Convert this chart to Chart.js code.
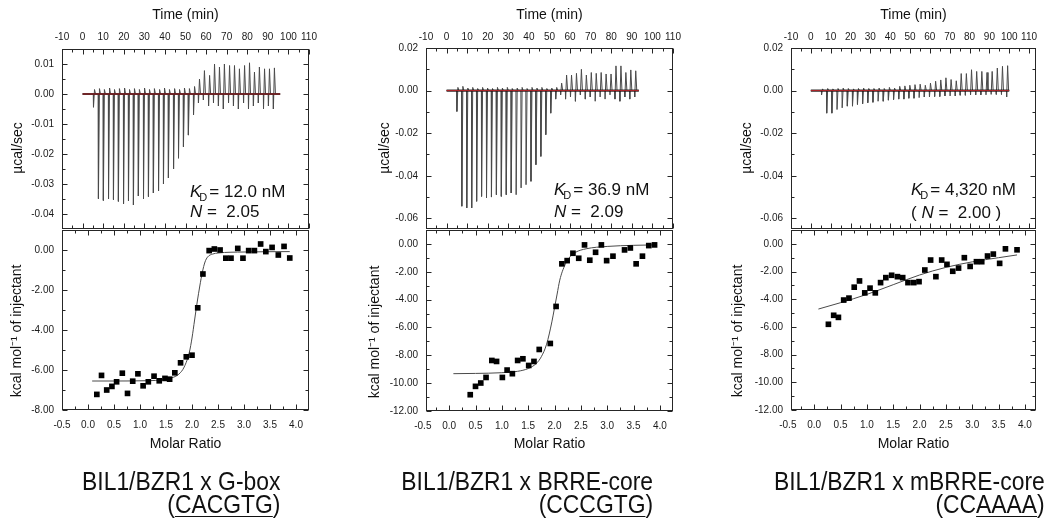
<!DOCTYPE html>
<html>
<head>
<meta charset="utf-8">
<title>ITC - BIL1/BZR1</title>
<script src="https://cdn.jsdelivr.net/npm/chart.js@4.4.1/dist/chart.umd.min.js"></script>
<style>
  html, body { margin: 0; padding: 0; background: #fff; }
  #page { position: relative; width: 1047px; height: 520px; overflow: hidden; }
  #page canvas { position: absolute; }
  .cap {
    position: absolute; text-align: right; white-space: nowrap; color: #111;
    font-family: "Liberation Sans", Arial, sans-serif;
    font-size: 26px; line-height: 23px;
    transform: scaleX(0.88); transform-origin: right top;
  }
  .cap u { text-decoration-thickness: 1px; text-underline-offset: 3px; }
</style>
</head>
<body>
<div id="page">
  <canvas id="raw0"></canvas><canvas id="fit0"></canvas>
  <canvas id="raw1"></canvas><canvas id="fit1"></canvas>
  <canvas id="raw2"></canvas><canvas id="fit2"></canvas>
  <div class="cap" style="right:767px; top:470px">BIL1/BZR1 x G-box<br>(<u>CACGTG</u>)</div>
  <div class="cap" style="right:394px; top:470px">BIL1/BZR1 x BRRE-core<br>(CC<u>CGTG</u>)</div>
  <div class="cap" style="right:2px; top:470px">BIL1/BZR1 x mBRRE-core<br>(CC<u>AAAA</u>)</div>
</div>
<script>
// ---- tick labels ----
const timeTicks = [-10, 0, 10, 20, 30, 40, 50, 60, 70, 80, 90, 100, 110];
const ratioTicks = [-0.5, 0.0, 0.5, 1.0, 1.5, 2.0, 2.5, 3.0, 3.5, 4.0];
const rawTicksA = [-0.04, -0.03, -0.02, -0.01, 0.00, 0.01];
const rawTicksB = [-0.06, -0.04, -0.02, 0.00, 0.02];
const heatTicksA = [-8, -6, -4, -2, 0];
const heatTicksB = [-12, -10, -8, -6, -4, -2, 0];

const kdLabels = ["12.0 nM", "36.9 nM", "4,320 nM"];
const nLabels = ["2.05", "2.09", "2.00"];

// ---- raw heat: injection time (min), lowest and highest signal (µcal/sec) ----
const p1Times = [5.2, 7.6, 10.0, 12.5, 14.9, 17.3, 19.8, 22.2, 24.6, 27.0, 29.5, 31.9, 34.3, 36.8, 39.2, 41.6, 44.1, 46.5, 48.9, 51.3, 53.8, 56.2, 58.6, 61.1, 63.5, 65.9, 68.3, 70.8, 73.2, 75.6, 78.1, 80.5, 82.9, 85.3, 87.8, 90.2, 92.6];
const p1Down = [-0.0044, -0.0349, -0.0355, -0.035, -0.0352, -0.0358, -0.0366, -0.0356, -0.037, -0.034, -0.035, -0.0342, -0.033, -0.0323, -0.030, -0.028, -0.025, -0.0214, -0.0176, -0.0137, -0.007, -0.003, -0.002, -0.004, -0.003, -0.004, -0.005, -0.003, -0.004, -0.005, -0.003, -0.005, -0.004, -0.003, -0.005, -0.004, -0.005];
const p1Up = [0.0015, 0.0018, 0.0015, 0.002, 0.0015, 0.0018, 0.002, 0.0015, 0.0018, 0.0015, 0.002, 0.0015, 0.0018, 0.0015, 0.002, 0.0015, 0.0018, 0.0015, 0.002, 0.0018, 0.0025, 0.005, 0.0078, 0.0062, 0.01, 0.009, 0.01, 0.0095, 0.0095, 0.0084, 0.0095, 0.0104, 0.0073, 0.009, 0.0084, 0.0084, 0.0087];

const p2Times = [4.9, 7.3, 9.7, 12.1, 14.5, 16.9, 19.3, 21.7, 24.1, 26.5, 28.9, 31.3, 33.7, 36.1, 38.5, 40.9, 43.3, 45.7, 48.1, 50.5, 52.9, 55.3, 57.7, 60.1, 62.5, 64.9, 67.3, 69.7, 72.1, 74.5, 76.9, 79.3, 81.7, 84.1, 86.5, 88.9, 91.3];
const p2Down = [-0.0098, -0.0543, -0.0551, -0.0551, -0.052, -0.0497, -0.0504, -0.050, -0.0489, -0.0497, -0.0489, -0.0481, -0.0489, -0.0457, -0.0442, -0.0426, -0.0348, -0.0309, -0.0207, -0.0106, -0.004, -0.002, -0.004, -0.003, -0.005, -0.002, -0.004, -0.003, -0.005, -0.003, -0.004, -0.002, -0.004, -0.005, -0.003, -0.004, -0.003];
const p2Up = [0.0015, 0.002, 0.0012, 0.0015, 0.001, 0.0015, 0.0012, 0.001, 0.0015, 0.0012, 0.0015, 0.001, 0.0012, 0.0015, 0.001, 0.0015, 0.0012, 0.0015, 0.001, 0.0012, 0.0015, 0.0035, 0.0073, 0.0073, 0.0081, 0.010, 0.0073, 0.0085, 0.0081, 0.0085, 0.0078, 0.0078, 0.0116, 0.0116, 0.0085, 0.0097, 0.0093];

const p3Times = [5.3, 7.9, 10.5, 13.1, 15.7, 18.3, 20.9, 23.4, 26.0, 28.6, 31.2, 33.8, 36.4, 39.0, 41.6, 44.2, 46.8, 49.3, 51.9, 54.5, 57.1, 59.7, 62.3, 64.9, 67.5, 70.1, 72.7, 75.2, 77.8, 80.4, 83.0, 85.6, 88.2, 90.8, 93.4, 96.0, 98.6];
const p3Down = [-0.002, -0.0106, -0.0106, -0.0089, -0.0081, -0.0073, -0.0073, -0.0065, -0.0062, -0.0057, -0.0055, -0.005, -0.005, -0.0045, -0.0042, -0.004, -0.004, -0.0036, -0.0036, -0.0033, -0.003, -0.003, -0.0028, -0.0028, -0.0025, -0.0025, -0.0025, -0.0022, -0.0022, -0.002, -0.002, -0.002, -0.002, -0.0018, -0.0018, -0.0018, -0.003];
const p3Up = [0.0008, 0.001, 0.0008, 0.001, 0.0012, 0.001, 0.0008, 0.001, 0.0012, 0.001, 0.001, 0.0012, 0.001, 0.0015, 0.0012, 0.002, 0.0022, 0.0025, 0.0028, 0.003, 0.0025, 0.0035, 0.0044, 0.005, 0.006, 0.0052, 0.0046, 0.008, 0.008, 0.0098, 0.009, 0.009, 0.0085, 0.009, 0.0106, 0.0114, 0.0117];

// ---- integrated heat: molar ratio vs kcal/mol of injectant ----
const p1X = [0.17, 0.26, 0.36, 0.46, 0.55, 0.66, 0.76, 0.86, 0.96, 1.06, 1.16, 1.27, 1.37, 1.48, 1.57, 1.67, 1.78, 1.89, 2.00, 2.11, 2.21, 2.33, 2.43, 2.54, 2.65, 2.75, 2.88, 2.98, 3.09, 3.20, 3.32, 3.42, 3.54, 3.66, 3.77, 3.88];
const p1Y = [-7.22, -6.27, -7.00, -6.82, -6.59, -6.16, -7.17, -6.56, -6.19, -6.79, -6.59, -6.31, -6.54, -6.42, -6.46, -6.14, -5.64, -5.34, -5.26, -2.89, -1.20, -0.03, 0.05, 0.00, -0.41, -0.41, 0.08, -0.41, -0.03, -0.03, 0.30, -0.08, 0.13, -0.25, 0.18, -0.40];
const p1FitX = [0.08, 0.5, 1.0, 1.4, 1.6, 1.75, 1.85, 1.95, 2.0, 2.05, 2.1, 2.15, 2.2, 2.25, 2.3, 2.4, 2.5, 3.0, 3.88];
const p1FitY = [-6.55, -6.55, -6.54, -6.5, -6.4, -6.2, -5.85, -5.1, -4.4, -3.5, -2.6, -1.8, -1.1, -0.6, -0.35, -0.2, -0.15, -0.1, -0.08];

const p2X = [0.40, 0.50, 0.60, 0.70, 0.81, 0.90, 1.01, 1.10, 1.20, 1.30, 1.40, 1.51, 1.61, 1.71, 1.92, 2.03, 2.14, 2.24, 2.35, 2.46, 2.57, 2.67, 2.78, 2.89, 2.99, 3.11, 3.33, 3.44, 3.55, 3.67, 3.79, 3.90];
const p2Y = [-10.83, -10.23, -9.99, -9.59, -8.37, -8.44, -9.59, -9.06, -9.32, -8.37, -8.25, -8.73, -8.44, -7.58, -7.15, -4.49, -1.43, -1.20, -0.67, -1.03, -0.07, -1.17, -0.60, -0.07, -1.20, -0.88, -0.43, -0.29, -1.43, -0.88, -0.12, -0.07];
const p2FitX = [0.08, 0.5, 1.0, 1.3, 1.5, 1.65, 1.75, 1.85, 1.95, 2.0, 2.05, 2.1, 2.2, 2.3, 2.4, 2.6, 3.0, 3.5, 3.9];
const p2FitY = [-9.32, -9.3, -9.25, -9.15, -8.95, -8.6, -8.1, -7.2, -5.6, -4.6, -3.6, -2.6, -1.5, -0.9, -0.6, -0.35, -0.18, -0.1, -0.07];

const p3X = [0.27, 0.37, 0.46, 0.56, 0.66, 0.76, 0.86, 0.96, 1.06, 1.16, 1.26, 1.36, 1.47, 1.58, 1.68, 1.78, 1.89, 1.99, 2.10, 2.21, 2.31, 2.42, 2.52, 2.63, 2.74, 2.85, 2.96, 3.08, 3.18, 3.29, 3.40, 3.52, 3.63, 3.85];
const p3Y = [-5.81, -5.16, -5.31, -4.06, -3.92, -3.13, -2.68, -3.54, -3.20, -3.54, -2.80, -2.44, -2.27, -2.37, -2.44, -2.80, -2.80, -2.73, -1.89, -1.17, -2.37, -1.17, -1.48, -1.98, -1.75, -1.00, -1.63, -1.29, -1.29, -0.88, -0.74, -1.41, -0.36, -0.43];
const p3FitX = [0.08, 0.5, 1.0, 1.5, 2.0, 2.5, 3.0, 3.5, 3.85];
const p3FitY = [-4.71, -4.25, -3.65, -2.95, -2.25, -1.7, -1.3, -1.0, -0.8];

// ---- page layout (pixels) ----
const FAM = "'Liberation Sans', Arial, Helvetica, sans-serif";
Chart.defaults.font.family = FAM;
Chart.defaults.color = "#1a1a1a";

const panels = [
  { col: 0, boxL: 62, boxR: 309, rawTop: 49, fitBottom: 410, xPad: 6,
    rawX: [-10, 110], rawY: [-0.045, 0.015], rawYTicks: rawTicksA,
    fitX: [-0.5, 4.25], fitY: [-8, 1], fitYTicks: heatTicksA,
    times: p1Times, downs: p1Down, ups: p1Up, traceEnd: 96,
    px: p1X, py: p1Y, fx: p1FitX, fy: p1FitY, paren: false,
    note: [190, 197, 217], rawTitle: [18, 148], fitTitle: [17, 331] },
  { col: 350, boxL: 426, boxR: 673, rawTop: 48, fitBottom: 411, xPad: 5,
    rawX: [-10, 110], rawY: [-0.065, 0.02], rawYTicks: rawTicksB,
    fitX: [-0.44, 4.25], fitY: [-12, 1], fitYTicks: heatTicksB,
    times: p2Times, downs: p2Down, ups: p2Up, traceEnd: 93.4,
    px: p2X, py: p2Y, fx: p2FitX, fy: p2FitY, paren: false,
    note: [554, 195, 217], rawTitle: [385, 148], fitTitle: [375, 332] },
  { col: 697, boxL: 791, boxR: 1036, rawTop: 48, fitBottom: 410, xPad: 5,
    rawX: [-10, 113.5], rawY: [-0.065, 0.02], rawYTicks: rawTicksB,
    fitX: [-0.44, 4.21], fitY: [-12, 1], fitYTicks: heatTicksB,
    times: p3Times, downs: p3Down, ups: p3Up, traceEnd: 100,
    px: p3X, py: p3Y, fx: p3FitX, fy: p3FitY, paren: true,
    note: [911, 195, 218], rawTitle: [747, 148], fitTitle: [738, 331] }
];

function midpoints(a) {
  const m = [];
  for (let i = 1; i < a.length; i++) m.push((a[i - 1] + a[i]) / 2);
  return m;
}

// each injection: leaves the baseline, dips, overshoots, comes back
function spikeTrace(times, downs, ups, endTime) {
  const pts = [{ x: 0, y: 0 }];
  times.forEach((t, i) => {
    pts.push({ x: t, y: 0 });
    pts.push({ x: t + 0.1, y: downs[i] });
    pts.push({ x: t + 0.6, y: ups[i] });
    pts.push({ x: t + 1.1, y: 0 });
  });
  pts.push({ x: endTime, y: 0 });
  return pts;
}

function zip(xs, ys) {
  return xs.map((x, i) => ({ x: x, y: ys[i] }));
}

// box around the plot with inward ticks on all four sides
const framePlugin = {
  id: "frame",
  afterDatasetsDraw(chart, args, o) {
    const { ctx, chartArea: a } = chart;
    const sx = chart.scales.x, sy = chart.scales.y;
    const L = Math.round(a.left) + 0.5, R = Math.round(a.right) - 0.5;
    const T = Math.round(a.top) + 0.5, B = Math.round(a.bottom) - 0.5;
    ctx.save();
    ctx.strokeStyle = "#262626";
    ctx.lineWidth = 1;
    ctx.strokeRect(L, T, R - L, B - T);
    ctx.beginPath();
    const xt = (vals, len) => vals.forEach(v => {
      if (v < sx.min || v > sx.max) return;
      const p = Math.round(sx.getPixelForValue(v)) + 0.5;
      ctx.moveTo(p, T); ctx.lineTo(p, T + len);
      ctx.moveTo(p, B); ctx.lineTo(p, B - len);
    });
    const yt = (vals, len) => vals.forEach(v => {
      if (v < sy.min || v > sy.max) return;
      const p = Math.round(sy.getPixelForValue(v)) + 0.5;
      ctx.moveTo(L, p); ctx.lineTo(L + len, p);
      ctx.moveTo(R, p); ctx.lineTo(R - len, p);
    });
    xt(o.xMajor, 5); xt(midpoints(o.xMajor), 3);
    yt(o.yMajor, 5); yt(midpoints(o.yMajor), 3);
    ctx.stroke();
    ctx.restore();
  }
};

// rotated y axis title at a fixed spot
const yTitlePlugin = {
  id: "ytitle",
  afterDraw(chart, args, o) {
    const ctx = chart.ctx;
    ctx.save();
    ctx.translate(o.cx, o.cy);
    ctx.rotate(-Math.PI / 2);
    ctx.font = "14px " + FAM;
    ctx.fillStyle = "#111";
    ctx.textAlign = "center";
    ctx.textBaseline = "middle";
    ctx.fillText(o.text, 0, 0);
    ctx.restore();
  }
};

// K_D and N annotation
const notePlugin = {
  id: "note",
  afterDatasetsDraw(chart, args, o) {
    const ctx = chart.ctx;
    ctx.save();
    ctx.fillStyle = "#111";
    ctx.textAlign = "left";
    ctx.textBaseline = "alphabetic";
    let x = o.x;
    ctx.font = "italic 17px " + FAM;
    ctx.fillText("K", x, o.y1);
    x += ctx.measureText("K").width;
    ctx.font = "11px " + FAM;
    ctx.fillText("D", x - 2, o.y1 + 4);
    x += ctx.measureText("D").width;
    ctx.font = "17px " + FAM;
    ctx.fillText("= " + o.kd, x, o.y1);
    x = o.x;
    if (o.paren) {
      ctx.fillText("( ", x, o.y2);
      x += ctx.measureText("( ").width;
    }
    ctx.font = "italic 17px " + FAM;
    ctx.fillText("N", x, o.y2);
    x += ctx.measureText("N").width;
    ctx.font = "17px " + FAM;
    ctx.fillText(" =  " + o.n + (o.paren ? " )" : ""), x, o.y2);
    ctx.restore();
  }
};

function fixedAxis(position, range, tickValues, format, padding, size) {
  const horizontal = position === "top" || position === "bottom";
  return {
    type: "linear", position: position, min: range[0], max: range[1],
    afterBuildTicks: s => { s.ticks = tickValues.map(v => ({ value: v })); },
    afterFit: s => {
      if (horizontal) { s.height = size; s.paddingLeft = 0; s.paddingRight = 0; }
      else { s.width = size; s.paddingTop = 0; s.paddingBottom = 0; }
    },
    grid: { display: false, drawTicks: false },
    border: { display: false },
    ticks: { font: { size: 10 }, padding: padding, autoSkip: false, maxRotation: 0, color: "#1a1a1a", callback: format }
  };
}

function placeCanvas(id, left, top, w, h) {
  const c = document.getElementById(id);
  c.width = w; c.height = h;
  c.style.left = left + "px"; c.style.top = top + "px";
  return c;
}

const RAW_H = 232, RAW_BOTTOM = 229;
const FIT_TOP = 226, FIT_H = 234, PAD_R = 12;

panels.forEach((p, i) => {
  const w = p.boxR - p.col + PAD_R;

  // ---- raw heat trace ----
  const rawCanvas = placeCanvas("raw" + i, p.col, 0, w, RAW_H);
  const xTop = fixedAxis("top", p.rawX, timeTicks, v => String(v), p.xPad, p.rawTop);
  xTop.title = { display: true, text: "Time (min)", color: "#111", font: { size: 14 }, padding: { top: 6.6, bottom: 0 } };
  new Chart(rawCanvas, {
    type: "line",
    data: {
      datasets: [
        { data: [{ x: 0, y: 0 }, { x: p.traceEnd, y: 0 }], borderColor: "#b8262b", borderWidth: 1, pointRadius: 0 },
        { data: [{ x: 0, y: 0 }, { x: p.traceEnd, y: 0 }], borderColor: "rgba(15,15,15,0.85)", borderWidth: 2.2, pointRadius: 0 },
        { data: spikeTrace(p.times, p.downs, p.ups, p.traceEnd), borderColor: "#4a4a4a", borderWidth: 1,
          borderJoinStyle: "round", pointRadius: 0, tension: 0 }
      ]
    },
    options: {
      responsive: false, animation: false, events: [],
      layout: { padding: { left: 0, top: 0, right: PAD_R, bottom: RAW_H - RAW_BOTTOM } },
      plugins: {
        legend: { display: false }, tooltip: { enabled: false },
        frame: { xMajor: timeTicks, yMajor: p.rawYTicks },
        ytitle: { text: "\u00b5cal/sec", cx: p.rawTitle[0] - p.col, cy: p.rawTitle[1] },
        note: { x: p.note[0] - p.col, y1: p.note[1], y2: p.note[2], kd: kdLabels[i], n: nLabels[i], paren: p.paren }
      },
      scales: {
        x: xTop,
        y: fixedAxis("left", p.rawY, p.rawYTicks, v => v.toFixed(2), 8, p.boxL - p.col)
      }
    },
    plugins: [framePlugin, yTitlePlugin, notePlugin]
  });

  // ---- integrated heats with fitted curve ----
  const fitCanvas = placeCanvas("fit" + i, p.col, FIT_TOP, w, FIT_H);
  const xBottom = fixedAxis("bottom", p.fitX, ratioTicks, v => v.toFixed(1), 9, FIT_TOP + FIT_H - p.fitBottom);
  xBottom.title = { display: true, text: "Molar Ratio", color: "#111", font: { size: 14 }, padding: { top: 0, bottom: 7.6 } };
  new Chart(fitCanvas, {
    type: "line",
    data: {
      datasets: [
        { data: zip(p.px, p.py), showLine: false, pointStyle: "rect", pointRadius: 4,
          pointBackgroundColor: "#000", pointBorderWidth: 0, pointBorderColor: "#000" },
        { data: zip(p.fx, p.fy), borderColor: "#4a4a4a", borderWidth: 1, pointRadius: 0,
          cubicInterpolationMode: "monotone" }
      ]
    },
    options: {
      responsive: false, animation: false, events: [],
      layout: { padding: { left: 0, top: 229 - FIT_TOP, right: PAD_R, bottom: 0 } },
      plugins: {
        legend: { display: false }, tooltip: { enabled: false },
        frame: { xMajor: ratioTicks, yMajor: p.fitYTicks },
        ytitle: { text: "kcal mol\u207b\u00b9 of injectant", cx: p.fitTitle[0] - p.col, cy: p.fitTitle[1] - FIT_TOP },
        note: false
      },
      scales: {
        x: xBottom,
        y: fixedAxis("left", p.fitY, p.fitYTicks, v => v.toFixed(2), 8, p.boxL - p.col)
      }
    },
    plugins: [framePlugin, yTitlePlugin]
  });
});
</script>
</body>
</html>
